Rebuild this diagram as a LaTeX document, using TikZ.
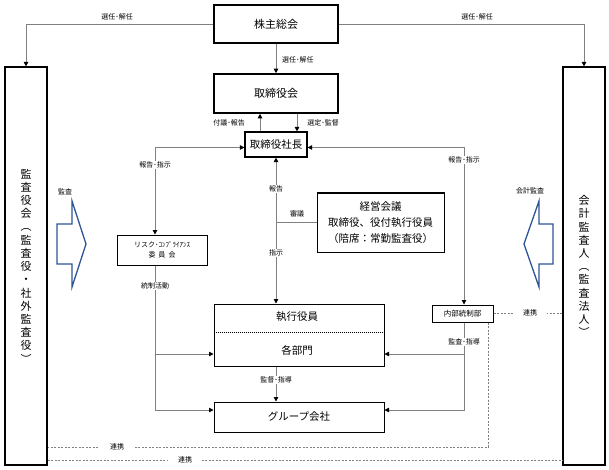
\documentclass[tikz,border=0pt]{standalone}
\usepackage{fontspec}
\setmainfont{Noto Sans CJK JP}
\usetikzlibrary{arrows.meta,calc}
\definecolor{lnc}{RGB}{128,128,128}
\definecolor{blu}{RGB}{47,85,151}
\begin{document}
\begin{tikzpicture}[x=1pt,y=-1pt,
  >={Triangle[length=4.5pt,width=4.5pt,color=black]},
  box/.style={draw=black,line width=1pt,fill=white,inner sep=0pt,font=\fontsize{10.5}{12}\selectfont},
  boxthick/.style={box,line width=1.6pt,font=\fontsize{11}{13}\selectfont},
  vbox/.style={box,line width=1.2pt,align=center,font=\fontsize{11}{13.2}\selectfont},
  conn/.style={draw=lnc,line width=0.9pt},
  dsh/.style={draw=lnc,line width=0.8pt,dash pattern=on 2pt off 1.5pt},
  lbl/.style={font=\fontsize{7}{8}\selectfont,inner sep=1pt},
  onl/.style={lbl,fill=white},
  lnk/.style={onl,inner xsep=10pt},
  barrow/.style={draw=blu,line width=1.3pt,fill=white,line join=miter}
]
\useasboundingbox (0,0) rectangle (609,470);
\fill[white] (0,0) rectangle (609,470);

% boxes
\node[boxthick,minimum width=124pt,minimum height=38pt] (sh) at (276,24) {株主総会};
\node[boxthick,minimum width=124pt,minimum height=39pt] (bd) at (276,93.5) {取締役会};
\node[box,line width=1.2pt,minimum width=62pt,minimum height=25pt] (pres) at (276,144.5) {取締役社長};
\node[vbox,minimum width=42pt,minimum height=398pt] (ka) at (26,266) {監\\査\\役\\会\\︵\\監\\査\\役\\・\\社\\外\\監\\査\\役\\︶};
\node[vbox,minimum width=42pt,minimum height=398pt] (kk) at (584,266) {会\\計\\監\\査\\人\\︵\\監\\査\\法\\人\\︶};
\node[box,minimum width=90pt,minimum height=30pt,align=center,font=\fontsize{7}{10.5}\selectfont] (risk) at (162,250) {リスク･ｺﾝﾌﾟﾗｲｱﾝｽ\\委\hspace{3pt}員\hspace{3pt}会};
\node[box,minimum width=127pt,minimum height=59pt,align=center,font=\fontsize{10.5}{16}\selectfont] (keiei) at (380.5,222.5) {経営会議\\取締役、役付執行役員\\（陪席：常勤監査役）};
\node[box,minimum width=170pt,minimum height=62pt] (exec) at (299,335) {};
\node[font=\fontsize{10.5}{12}\selectfont,inner sep=0pt] (exe1) at (297,317) {執行役員};
\node[font=\fontsize{10.5}{12}\selectfont,inner sep=0pt] (exe2) at (297,350) {各部門};
\draw[black,line width=0.5pt,dash pattern=on 1pt off 1pt] ($(exec.west)+(0,-3)$) -- ($(exec.east)+(0,-3)$);
\node[box,minimum width=170pt,minimum height=30pt] (group) at (299,417) {グループ会社};
\node[box,minimum width=61pt,minimum height=17pt,font=\fontsize{7.5}{9}\selectfont] (naibu) at (462.5,313.5) {内部統制部};

% top connectors
\draw[conn,->] (sh.west) -| (ka.north);
\draw[conn,->] (sh.east) -| (kk.north);
\node[lbl] (l1) at (117,17) {選任･解任};
\node[lbl] (l2) at (477,17) {選任･解任};
\draw[conn,->] (sh.south) -- (bd.north);
\node[lbl,anchor=west] (l3) at (281,60) {選任･解任};
\draw[conn,->] ($(pres.north)+(-16,0)$) -- ($(bd.south)+(-16,0)$);
\draw[conn,->] ($(bd.south)+(21,0)$) -- ($(pres.north)+(21,0)$);
\node[lbl] (l4) at (229,123) {付議･報告};
\node[lbl] (l5) at (323,123) {選定･監督};

% president to executives
\draw[conn,<->] (pres.south) -- (pres.south |- exec.north);
\draw[conn] (pres.south |- keiei.west) -- (keiei.west);
\node[onl] (l6) at (276,189) {報告};
\node[onl] (l7) at (276,253) {指示};
\node[lbl] (l8) at (297,214) {審議};

% side report lines
\draw[conn,<->] ($(pres.west)+(0,3)$) -| ($(risk.north)+(-7,0)$);
\node[onl] (l9) at (155,165) {報告･指示};
\draw[conn,<->] ($(pres.east)+(0,3)$) -| ($(naibu.north)+(1.5,0)$);
\node[onl] (l10) at (464,160) {報告･指示};

% risk committee control
\draw[conn,->] ($(risk.south)+(-7,0)$) |- ($(group.west)+(0,-7)$);
\draw[conn,->] ($(risk.south)+(-7,0)$) |- ($(exec.west)+(0,19)$);
\node[onl] (l11) at (155,286) {統制活動};

% internal control
\draw[conn,->] ($(naibu.south)+(1.5,0)$) |- ($(group.east)+(0,-7)$);
\draw[conn,->] ($(naibu.south)+(1.5,0)$) |- ($(exec.east)+(0,19)$);
\node[onl] (l12) at (464,342) {監査･指導};

% exec to group
\draw[conn,->] ($(exec.south)+(-23,0)$) -- ($(group.north)+(-23,0)$);
\node[onl] (l13) at (276,380) {監督･指導};

% dashed cooperation
\draw[dsh] (naibu.east) -- (naibu.east -| kk.west);
\node[lnk] (l14) at (530,313) {連携};
\draw[dsh] ($(naibu.south)+(25.5,0)$) |- ($(ka.east)+(0,181)$);
\node[lnk] (l15) at (117,447) {連携};
\draw[dsh] ($(ka.east)+(0,194)$) -- ($(kk.west)+(0,194)$);
\node[lnk] (l16) at (185,460) {連携};

% block arrows
\draw[barrow] (57,224) -- (72,224) -- (72,201) -- (86,244) -- (72,287) -- (72,264) -- (57,264) -- cycle;
\node[lbl] (l17) at (65,192) {監査};
\draw[barrow] (553,224) -- (539,224) -- (539,201) -- (524,244) -- (539,287) -- (539,264) -- (553,264) -- cycle;
\node[lbl] (l18) at (530,191) {会計監査};
\end{tikzpicture}
\end{document}
